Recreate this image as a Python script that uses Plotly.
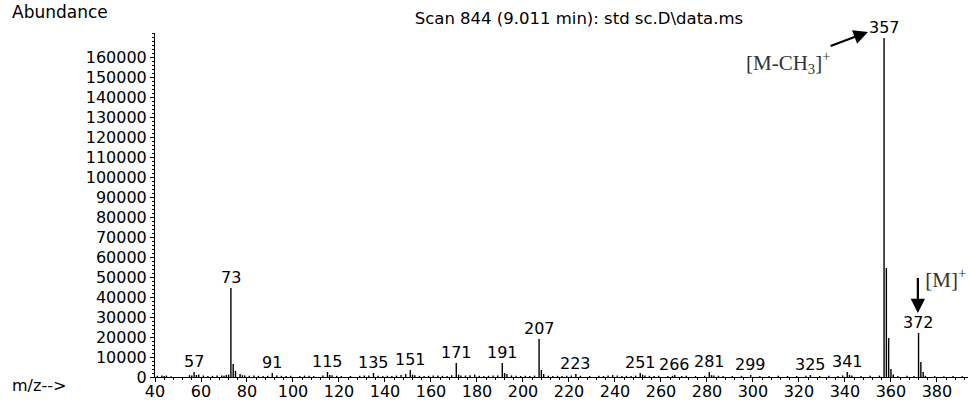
import numpy as np
import plotly.graph_objects as go

# ---- data ----
major_mz = [73, 74, 75, 171, 172, 191, 192, 193, 207, 208, 209,
            357, 358, 359, 360, 361, 372, 373, 374]
major_int = [44500, 6500, 3000, 7000, 1200, 7000, 2000, 1500, 19000, 3500, 1500,
             169500, 54500, 19500, 4000, 1200, 22000, 7500, 2500]

minor_mz = [41, 43, 44, 45, 47, 55, 56, 57, 58, 59, 61, 63, 65, 67, 69, 70, 71, 72,
            77, 78, 79, 81, 83, 85, 87, 89, 91, 93, 95, 97, 99, 103, 105, 107, 109,
            113, 115, 116, 117, 119, 121, 125, 129, 131, 133, 135, 137, 139, 141, 143,
            145, 147, 149, 151, 152, 153, 155, 157, 159, 161, 163, 165, 167, 169, 173,
            175, 177, 179, 181, 183, 185, 187, 189, 195, 197, 199, 201, 203, 205, 211,
            213, 215, 217, 219, 221, 223, 225, 229, 233, 235, 237, 239, 241, 243, 245,
            247, 249, 251, 252, 253, 255, 257, 259, 263, 265, 266, 269, 271, 275, 279,
            281, 282, 283, 285, 287, 291, 295, 299, 303, 307, 311, 315, 319, 323, 325,
            329, 333, 337, 339, 341, 342, 343, 347, 351, 355, 363, 367, 370, 375, 379,
            383, 387, 391]
minor_int = [600, 800, 500, 700, 400, 900, 700, 2500, 1000, 1200, 700, 500, 600, 700, 800, 600, 1000, 1200,
             1500, 900, 800, 600, 700, 600, 500, 600, 2000, 700, 600, 500, 600, 500, 700, 600, 500,
             700, 2500, 1000, 900, 600, 500, 500, 600, 700, 800, 2000, 600, 500, 600, 500,
             700, 1000, 1500, 3500, 1200, 900, 600, 500, 600, 700, 800, 600, 500, 900, 800,
             700, 900, 1200, 600, 500, 600, 700, 800, 800, 600, 500, 600, 500, 700, 600,
             500, 600, 500, 600, 800, 1500, 600, 500, 600, 500, 700, 1000, 700, 500, 600,
             500, 700, 2000, 1200, 800, 600, 500, 600, 500, 600, 1000, 500, 600, 500, 600,
             2500, 900, 700, 600, 500, 500, 600, 1000, 500, 500, 600, 500, 500, 600, 1000,
             500, 600, 500, 800, 2500, 1000, 700, 500, 600, 700, 500, 600, 500, 600, 500,
             400, 500, 400]

label_mz = [57, 73, 91, 115, 135, 151, 171, 191, 207, 223, 251, 266, 281, 299, 325, 341, 357, 372]

y_ticks = list(range(0, 160001, 10000))
x_ticks = list(range(40, 381, 20))

# ---- build sticks ----
all_mz = np.array(major_mz + minor_mz, dtype=float)
all_int = np.array(major_int + minor_int, dtype=float)
lookup = {}
for m, v in zip(all_mz, all_int):
    lookup[m] = max(lookup.get(m, 0), v)

xs, ys = [], []
for m, v in zip(all_mz, all_int):
    xs += [m, m, None]
    ys += [0, v, None]

fig = go.Figure()
fig.add_trace(go.Scatter(x=xs, y=ys, mode="lines",
                         line=dict(color="black", width=1.4),
                         hoverinfo="skip", showlegend=False))

font_main = "DejaVu Sans"

annotations = []
for m in label_mz:
    annotations.append(dict(x=m, y=lookup.get(float(m), 0), xref="x", yref="y",
                            text=str(m), showarrow=False, yanchor="bottom",
                            xanchor="center", yshift=-1,
                            font=dict(family=font_main, size=16, color="black")))

# headers
annotations.append(dict(x=-0.178, y=1.06, xref="paper", yref="paper", text="Abundance",
                        showarrow=False, xanchor="left", yanchor="middle",
                        font=dict(family=font_main, size=17, color="black")))
annotations.append(dict(x=-0.178, y=-0.024, xref="paper", yref="paper", text="m/z-->",
                        showarrow=False, xanchor="left", yanchor="middle",
                        font=dict(family=font_main, size=16, color="black")))

# ion annotations (arrow attached to text)
annotations.append(dict(x=350, y=172500, ax=315.2, ay=157500, xref="x", yref="y",
                        axref="x", ayref="y",
                        text="[M-CH<sub>3</sub>]<sup>+</sup>", showarrow=True,
                        arrowhead=2, arrowsize=1.3, arrowwidth=2.2, arrowcolor="black",
                        font=dict(family="Liberation Serif", size=21, color="#333333")))
annotations.append(dict(x=371.7, y=32000, ax=371.7, ay=49500, xref="x", yref="y",
                        axref="x", ayref="y", xanchor="left", yanchor="middle",
                        text="&nbsp;[M]<sup>+</sup>", showarrow=True,
                        arrowhead=2, arrowsize=1.3, arrowwidth=2.2, arrowcolor="black",
                        font=dict(family="Liberation Serif", size=21, color="#333333")))

fig.update_layout(
    width=973, height=403,
    margin=dict(l=155, r=5, t=33, b=26, autoexpand=False),
    plot_bgcolor="white", paper_bgcolor="white",
    font=dict(family=font_main, size=16, color="black"),
    title=dict(text="Scan 844 (9.011 min): std sc.D\\data.ms", x=0.595, xanchor="center",
               y=0.955, yanchor="middle", font=dict(family=font_main, size=16.5, color="black")),
    annotations=annotations,
    showlegend=False,
)
fig.update_xaxes(range=[40, 393.5], tickvals=x_ticks, ticks="outside", ticklen=4,
                 tickcolor="black", showline=True, linecolor="black", linewidth=1,
                 showgrid=False, zeroline=False, automargin=False, ticklabelstandoff=-4,
                 minor=dict(dtick=4, tick0=40, ticks="outside", ticklen=2, tickcolor="black"),
                 tickfont=dict(family=font_main, size=16, color="black"))
fig.update_yaxes(range=[0, 172000], tickvals=y_ticks, tickformat="d", ticks="outside",
                 ticklen=4, tickcolor="black", showline=True, linecolor="black", linewidth=1,
                 showgrid=False, zeroline=False, automargin=False,
                 minor=dict(dtick=2000, tick0=0, ticks="outside", ticklen=2, tickcolor="black"),
                 tickfont=dict(family=font_main, size=16, color="black"))

fig.write_html("out.html")
